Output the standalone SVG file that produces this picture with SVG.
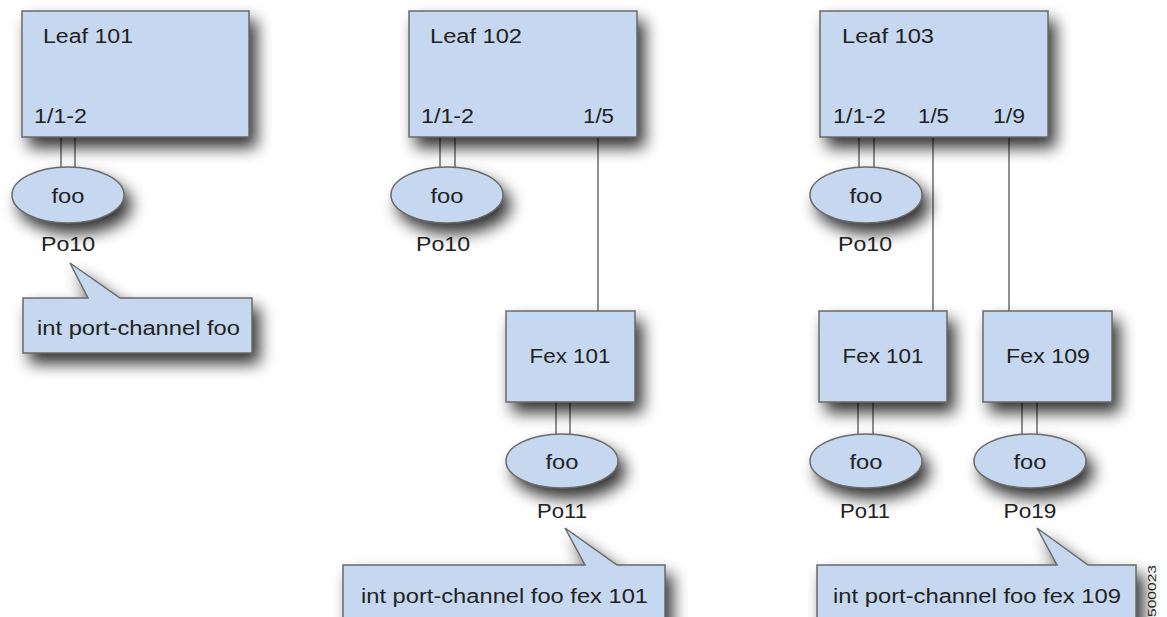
<svg xmlns="http://www.w3.org/2000/svg" width="1167" height="617" viewBox="0 0 1167 617">
<defs>
<filter id="sh" x="-40%" y="-40%" width="190%" height="200%" color-interpolation-filters="sRGB">
<feGaussianBlur in="SourceAlpha" stdDeviation="8"/>
<feOffset dx="7" dy="10" result="b"/>
<feComponentTransfer in="b" result="s"><feFuncA type="linear" slope="0.8"/></feComponentTransfer>
<feMerge><feMergeNode in="s"/><feMergeNode in="SourceGraphic"/></feMerge>
</filter>
<style>
.box{fill:#c6d8ef;stroke:#6a6a6a;stroke-width:1.5}
.ln{stroke:#555;stroke-width:1.3;fill:none}
text{font-family:"Liberation Sans",Arial,sans-serif;fill:#222}
.t{font-size:20px}
.c{text-anchor:middle}
</style>
</defs>
<rect width="1167" height="617" fill="#fff"/>
<g id="connectors">
<line class="ln" x1="61" y1="137" x2="61" y2="168"/>
<line class="ln" x1="75" y1="137" x2="75" y2="168"/>
<line class="ln" x1="440" y1="137" x2="440" y2="168"/>
<line class="ln" x1="455" y1="137" x2="455" y2="168"/>
<line class="ln" x1="598" y1="137" x2="598" y2="311"/>
<line class="ln" x1="859" y1="137" x2="859" y2="168"/>
<line class="ln" x1="874" y1="137" x2="874" y2="168"/>
<line class="ln" x1="933" y1="137" x2="933" y2="311"/>
<line class="ln" x1="1009" y1="137" x2="1009" y2="311"/>
<line class="ln" x1="556" y1="402" x2="556" y2="435"/>
<line class="ln" x1="570" y1="402" x2="570" y2="435"/>
<line class="ln" x1="858" y1="402" x2="858" y2="435"/>
<line class="ln" x1="873" y1="402" x2="873" y2="435"/>
<line class="ln" x1="1022" y1="402" x2="1022" y2="435"/>
<line class="ln" x1="1037" y1="402" x2="1037" y2="435"/>
</g>
<g id="leaf101">
<rect class="box" filter="url(#sh)" x="22" y="11" width="227" height="126"/>
<text class="t" x="43" y="43" textLength="90" lengthAdjust="spacingAndGlyphs">Leaf 101</text>
<text class="t" x="34" y="123" textLength="53" lengthAdjust="spacingAndGlyphs">1/1-2</text>
</g>
<g id="leaf102">
<rect class="box" filter="url(#sh)" x="409" y="11" width="228" height="126"/>
<text class="t" x="430" y="43" textLength="92" lengthAdjust="spacingAndGlyphs">Leaf 102</text>
<text class="t" x="421" y="123" textLength="53" lengthAdjust="spacingAndGlyphs">1/1-2</text>
<text class="t" x="583" y="123" textLength="31" lengthAdjust="spacingAndGlyphs">1/5</text>
</g>
<g id="leaf103">
<rect class="box" filter="url(#sh)" x="820" y="11" width="228" height="126"/>
<text class="t" x="842" y="43" textLength="92" lengthAdjust="spacingAndGlyphs">Leaf 103</text>
<text class="t" x="833" y="123" textLength="53" lengthAdjust="spacingAndGlyphs">1/1-2</text>
<text class="t" x="918" y="123" textLength="31" lengthAdjust="spacingAndGlyphs">1/5</text>
<text class="t" x="993" y="123" textLength="32" lengthAdjust="spacingAndGlyphs">1/9</text>
</g>
<g id="po10a">
<ellipse class="box" filter="url(#sh)" cx="68" cy="195" rx="56" ry="28"/>
<text class="t c" x="68" y="203" textLength="33" lengthAdjust="spacingAndGlyphs">foo</text>
<text class="t c" x="68" y="251" textLength="54" lengthAdjust="spacingAndGlyphs">Po10</text>
</g>
<g id="po10b">
<ellipse class="box" filter="url(#sh)" cx="447" cy="195" rx="56" ry="28"/>
<text class="t c" x="447" y="203" textLength="33" lengthAdjust="spacingAndGlyphs">foo</text>
<text class="t c" x="443" y="251" textLength="54" lengthAdjust="spacingAndGlyphs">Po10</text>
</g>
<g id="po10c">
<ellipse class="box" filter="url(#sh)" cx="866" cy="195" rx="56" ry="28"/>
<text class="t c" x="866" y="203" textLength="33" lengthAdjust="spacingAndGlyphs">foo</text>
<text class="t c" x="865" y="251" textLength="54" lengthAdjust="spacingAndGlyphs">Po10</text>
</g>
<g id="fex101a">
<rect class="box" filter="url(#sh)" x="506" y="311" width="129" height="91"/>
<text class="t c" x="570" y="363" textLength="81" lengthAdjust="spacingAndGlyphs">Fex 101</text>
</g>
<g id="fex101b">
<rect class="box" filter="url(#sh)" x="819" y="311" width="128" height="91"/>
<text class="t c" x="883" y="363" textLength="81" lengthAdjust="spacingAndGlyphs">Fex 101</text>
</g>
<g id="fex109">
<rect class="box" filter="url(#sh)" x="983" y="311" width="129" height="91"/>
<text class="t c" x="1048" y="363" textLength="84" lengthAdjust="spacingAndGlyphs">Fex 109</text>
</g>
<g id="po11a">
<ellipse class="box" filter="url(#sh)" cx="562" cy="461" rx="56" ry="27"/>
<text class="t c" x="562" y="469" textLength="33" lengthAdjust="spacingAndGlyphs">foo</text>
<text class="t c" x="562" y="518" textLength="50" lengthAdjust="spacingAndGlyphs">Po11</text>
</g>
<g id="po11b">
<ellipse class="box" filter="url(#sh)" cx="866" cy="461" rx="56" ry="27"/>
<text class="t c" x="866" y="469" textLength="33" lengthAdjust="spacingAndGlyphs">foo</text>
<text class="t c" x="865" y="518" textLength="50" lengthAdjust="spacingAndGlyphs">Po11</text>
</g>
<g id="po19">
<ellipse class="box" filter="url(#sh)" cx="1030" cy="461" rx="56" ry="27"/>
<text class="t c" x="1030" y="469" textLength="33" lengthAdjust="spacingAndGlyphs">foo</text>
<text class="t c" x="1030" y="518" textLength="53" lengthAdjust="spacingAndGlyphs">Po19</text>
</g>
<g id="callout1">
<path class="box" filter="url(#sh)" d="M23,298 H88 L70,263 L120,298 H252 V353 H23 Z"/>
<text class="t" x="37" y="335" textLength="203" lengthAdjust="spacingAndGlyphs">int port-channel foo</text>
</g>
<g id="callout2">
<path class="box" filter="url(#sh)" d="M343,565 H585 L565,528 L617,565 H665 V640 H343 Z"/>
<text class="t" x="361" y="603" textLength="287" lengthAdjust="spacingAndGlyphs">int port-channel foo fex 101</text>
</g>
<g id="callout3">
<path class="box" filter="url(#sh)" d="M817,565 H1057 L1037,528 L1088,565 H1136 V640 H817 Z"/>
<text class="t" x="833" y="603" textLength="288" lengthAdjust="spacingAndGlyphs">int port-channel foo fex 109</text>
</g>
<text x="1156" y="617" font-size="11" transform="rotate(-90 1156 617)" textLength="52" lengthAdjust="spacingAndGlyphs">500023</text>
</svg>
